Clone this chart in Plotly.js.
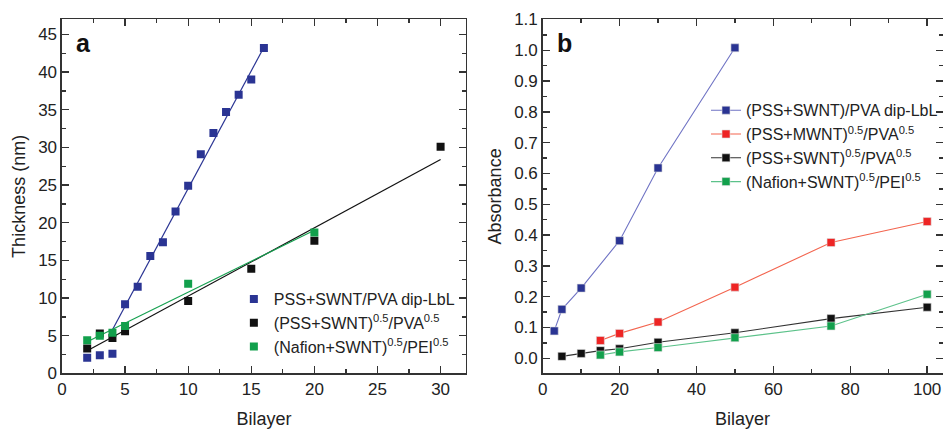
<!DOCTYPE html>
<html>
<head>
<meta charset="utf-8">
<script src="https://cdn.plot.ly/plotly-3.0.1.min.js"></script>
<style>html,body{margin:0;padding:0;background:#fff;}#chart{width:943px;height:429px;}</style>
</head>
<body>
<div id="chart"></div>
<script>
// ---------- Panel a: thickness vs bilayer ----------
const aBlueX = [2, 3, 4, 5, 6, 7, 8, 9, 10, 11, 12, 13, 14, 15, 16];
const aBlueY = [2.1, 2.4, 2.6, 9.2, 11.5, 15.6, 17.4, 21.5, 24.9, 29.1, 31.9, 34.7, 37.0, 39.0, 43.2];
const aBlackX = [2, 3, 4, 5, 10, 15, 20, 30];
const aBlackY = [3.3, 5.3, 4.7, 5.6, 9.6, 13.9, 17.6, 30.1];
const aGreenX = [2, 3, 4, 5, 10, 20];
const aGreenY = [4.4, 5.0, 5.4, 6.3, 11.9, 18.7];
// linear fit lines (end points)
const aBlueFitX = [4.0, 16.0];
const aBlueFitY = [5.8, 43.3];
const aBlackFitX = [2.0, 30.0];
const aBlackFitY = [3.0, 28.4];
const aGreenFitX = [2.0, 20.0];
const aGreenFitY = [4.2, 19.0];
const aNames = ['PSS+SWNT/PVA dip-LbL', '(PSS+SWNT)<sup>0.5</sup>/PVA<sup>0.5</sup>', '(Nafion+SWNT)<sup>0.5</sup>/PEI<sup>0.5</sup>'];

// ---------- Panel b: absorbance vs bilayer ----------
const bBlueX = [3, 5, 10, 20, 30, 50];
const bBlueY = [0.089, 0.159, 0.228, 0.382, 0.618, 1.008];
const bRedX = [15, 20, 30, 50, 75, 100];
const bRedY = [0.058, 0.081, 0.118, 0.231, 0.376, 0.444];
const bBlackX = [5, 10, 15, 20, 30, 50, 75, 100];
const bBlackY = [0.0065, 0.016, 0.025, 0.031, 0.052, 0.083, 0.129, 0.166];
const bGreenX = [15, 20, 30, 50, 75, 100];
const bGreenY = [0.011, 0.021, 0.035, 0.067, 0.105, 0.208];
const bNames = ['(PSS+SWNT)/PVA dip-LbL', '(PSS+MWNT)<sup>0.5</sup>/PVA<sup>0.5</sup>', '(PSS+SWNT)<sup>0.5</sup>/PVA<sup>0.5</sup>', '(Nafion+SWNT)<sup>0.5</sup>/PEI<sup>0.5</sup>'];

const C = {
  blue: '#2a3493', blueLine: '#6f73c4',
  red: '#ee2424', redLine: '#f3654f',
  black: '#111111', blackLine: '#333333',
  green: '#12a04c', greenLine: '#5cc28a', greenFit: '#16a050'
};
const FONT = 'Liberation Sans, Arial, sans-serif';

function fitLine(x, y, color) {
  return {x: x, y: y, mode: 'lines', xaxis: 'x', yaxis: 'y', showlegend: false,
          line: {color: color, width: 1.2}, hoverinfo: 'skip'};
}
function aMarkers(x, y, color, name) {
  return {x: x, y: y, mode: 'markers', xaxis: 'x', yaxis: 'y', name: name, legend: 'legend',
          marker: {symbol: 'square', size: 8, color: color, line: {width: 0}}};
}
function bTrace(x, y, mc, lc, name) {
  return {x: x, y: y, mode: 'lines+markers', xaxis: 'x2', yaxis: 'y2', name: name, legend: 'legend2',
          line: {color: lc, width: 1.1},
          marker: {symbol: 'square', size: 8, color: mc, line: {width: 0.6, color: '#dddddd'}}};
}

const data = [
  fitLine(aBlueFitX, aBlueFitY, C.blue),
  fitLine(aBlackFitX, aBlackFitY, C.black),
  fitLine(aGreenFitX, aGreenFitY, C.greenFit),
  aMarkers(aBlueX, aBlueY, C.blue, aNames[0]),
  aMarkers(aBlackX, aBlackY, C.black, aNames[1]),
  aMarkers(aGreenX, aGreenY, C.green, aNames[2]),
  bTrace(bBlueX, bBlueY, C.blue, C.blueLine, bNames[0]),
  bTrace(bRedX, bRedY, C.red, C.redLine, bNames[1]),
  bTrace(bBlackX, bBlackY, C.black, C.blackLine, bNames[2]),
  bTrace(bGreenX, bGreenY, C.green, C.greenLine, bNames[3])
];

function axis(extra) {
  return Object.assign({
    showline: true, linecolor: '#333', linewidth: 1.5, mirror: 'allticks',
    ticks: 'inside', ticklen: 7, tickwidth: 1.3, tickcolor: '#333',
    showgrid: false, zeroline: false,
    tickfont: {family: FONT, size: 17, color: '#222'},
    fixedrange: true
  }, extra);
}

const layout = {
  width: 943, height: 429,
  margin: {l: 0, r: 0, t: 0, b: 0},
  paper_bgcolor: '#fff', plot_bgcolor: '#fff',
  font: {family: FONT, color: '#222'},
  xaxis: axis({domain: [0.0657, 0.494], range: [0, 32], dtick: 5, tick0: 0,
    minor: {dtick: 2.5, ticklen: 4, tickcolor: '#333', ticks: 'inside'},
    title: {text: 'Bilayer', font: {family: FONT, size: 18, color: '#222'}, standoff: 24}, anchor: 'y'}),
  yaxis: axis({domain: [0.1295, 0.955], range: [0, 47], dtick: 5, tick0: 0,
    minor: {dtick: 2.5, ticklen: 4, tickcolor: '#333', ticks: 'inside'},
    title: {text: 'Thickness (nm)', font: {family: FONT, size: 18, color: '#222'}, standoff: 8}, anchor: 'x'}),
  xaxis2: axis({domain: [0.5755, 0.9995], range: [0, 104], dtick: 20, tick0: 0,
    minor: {dtick: 10, ticklen: 4, tickcolor: '#333', ticks: 'inside'},
    title: {text: 'Bilayer', font: {family: FONT, size: 18, color: '#222'}, standoff: 24}, anchor: 'y2'}),
  yaxis2: axis({domain: [0.1295, 0.955], range: [-0.049, 1.1005], dtick: 0.1, tick0: 0, tickformat: '.1f',
    minor: {dtick: 0.05, ticklen: 4, tickcolor: '#333', ticks: 'inside'},
    title: {text: 'Absorbance', font: {family: FONT, size: 18, color: '#222'}, standoff: 8}, anchor: 'x2'}),
  legend: {x: 0.248, y: 0.247, xanchor: 'left', yanchor: 'middle', bgcolor: 'rgba(0,0,0,0)',
    font: {family: FONT, size: 16, color: '#222'}, tracegroupgap: 0},
  legend2: {x: 0.749, y: 0.659, xanchor: 'left', yanchor: 'middle', bgcolor: 'rgba(0,0,0,0)',
    font: {family: FONT, size: 16, color: '#222'}, tracegroupgap: 0},
  annotations: [
    {text: '<b>a</b>', xref: 'paper', yref: 'paper', x: 83 / 943, y: 1 - 43 / 429, showarrow: false,
     xanchor: 'center', yanchor: 'middle', font: {family: FONT, size: 25, color: '#111'}},
    {text: '<b>b</b>', xref: 'paper', yref: 'paper', x: 564 / 943, y: 1 - 43 / 429, showarrow: false,
     xanchor: 'center', yanchor: 'middle', font: {family: FONT, size: 25, color: '#111'}}
  ],
  showlegend: true
};

Plotly.newPlot('chart', data, layout, {displayModeBar: false, staticPlot: true});
</script>
</body>
</html>
